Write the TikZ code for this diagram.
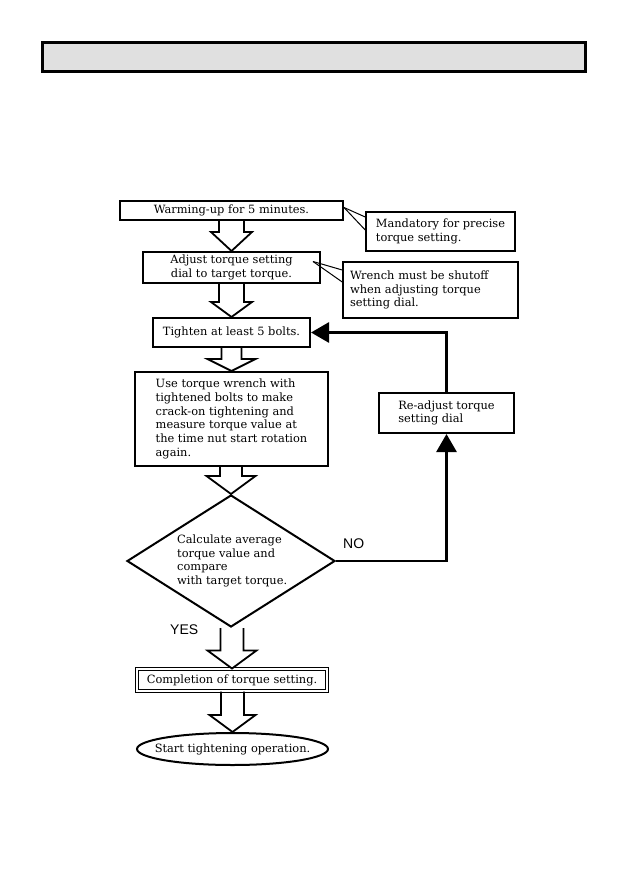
\documentclass[tikz,border=0pt]{standalone}
\usepackage{fontspec}
\setmainfont{DejaVu Serif}
\newfontfamily\labfont{Liberation Sans}
\usetikzlibrary{shapes.geometric,arrows.meta,calc}
\tikzset{
  txt/.style={font=\fontsize{11.4}{13.7}\selectfont},
  mainbox/.style={draw,line width=2pt,inner sep=0pt,txt},
  notebox/.style={draw,line width=1.5pt,inner sep=0pt,txt},
  blockarrow/.style={draw,line width=1.8pt,line join=miter},
  pointer/.style={draw,line width=1pt},
  fb/.style={draw,line width=2.8pt},
  fbtip/.style={-{Triangle[length=18pt,width=20pt]}},
  yn/.style={font=\labfont\fontsize{14}{16}\selectfont},
}
\newcommand\bigarrow[5]{%
  \draw[blockarrow] let \p1=(#1.south), \p2=(#2.north) in
   (\x2-#3pt,\y1) -- (\x2-#3pt,\y2+#5pt) -- (\x2-#4pt,\y2+#5pt) -- (\x2,\y2)
   -- (\x2+#4pt,\y2+#5pt) -- (\x2+#3pt,\y2+#5pt) -- (\x2+#3pt,\y1);}
\begin{document}
\begin{tikzpicture}[x=1pt,y=-1pt]
\useasboundingbox (0,0) rectangle (629,893);
% title bar
\node[draw,line width=3pt,fill=black!12,minimum width=543pt,minimum height=29pt,inner sep=0pt] (title) at (313.5,57.5) {};
% main boxes
\node[mainbox,minimum width=223pt,minimum height=19pt] (b1) at (231.5,210.5) {Warming-up for 5 minutes.};
\node[notebox,minimum width=149pt,minimum height=39pt,align=left] (c1) at (440.5,231.5) {Mandatory for precise\\torque setting.};
\node[mainbox,minimum width=177pt,minimum height=31pt,align=center] (b2) at (231.5,267.5) {Adjust torque setting\\dial to target torque.};
\node[notebox,minimum width=175pt,minimum height=56pt,text width=161pt,align=left] (c2) at (430.5,290) {Wrench must be shutoff\\when adjusting torque\\setting dial.};
\node[mainbox,minimum width=157pt,minimum height=29pt] (b3) at (231.5,332.5) {Tighten at least 5 bolts.};
\node[mainbox,minimum width=193pt,minimum height=94pt,align=left] (b4) at (231.5,419) {Use torque wrench with\\tightened bolts to make\\crack-on tightening and\\measure torque value at\\the time nut start rotation\\again.};
\node[mainbox,minimum width=135pt,minimum height=40pt,align=left] (re) at (446.5,413) {Re-adjust torque\\setting dial};
\node[draw,diamond,line width=2pt,minimum width=208pt,minimum height=132pt,inner sep=0pt,aspect=1.576] (dia) at (231,561) {};
\node[anchor=west,align=left,inner sep=0pt,txt] (diatext) at (177,561) {Calculate average\\torque value and\\compare\\with target torque.};
\node[draw,double,double distance=2pt,line width=1pt,minimum width=190pt,minimum height=22pt,inner sep=0pt,txt] (b5) at (232,680) {Completion of torque setting.};
\node[draw,ellipse,line width=2pt,minimum width=191pt,minimum height=32pt,inner sep=0pt,txt] (el) at (232.5,749) {\makebox[0pt]{Start tightening operation.}};
% labels
\node[yn,anchor=west,inner sep=0pt] (no) at (343,544) {NO};
\node[yn,anchor=west,inner sep=0pt] (yes) at (170,630) {YES};
% block arrows
\bigarrow{b1}{b2}{12.5}{20.5}{19}
\bigarrow{b2}{b3}{12.5}{20.5}{15}
\bigarrow{b3}{b4}{10}{24}{12}
\bigarrow{b4}{dia}{11}{24.5}{18}
\bigarrow{dia}{b5}{11.5}{24.5}{18}
\bigarrow{b5}{el}{11.5}{23}{17}
% callout pointers
\draw[pointer] ($(b1.east)+(0,-3)$) -- ($(c1.west)+(0,-14.5)$);
\draw[pointer] ($(b1.east)+(0,-3)$) -- ($(c1.west)+(0,-1.5)$);
\draw[pointer] ($(b2.east)+(-8,-6)$) -- ($(c2.west)+(0,-20)$);
\draw[pointer] ($(b2.east)+(-8,-6)$) -- ($(c2.west)+(0,-8)$);
% feedback
\draw[fb,fbtip] (dia.east) -| (re.south);
\draw[fb,fbtip] (re.north) |- (b3.east);
\end{tikzpicture}
\end{document}
